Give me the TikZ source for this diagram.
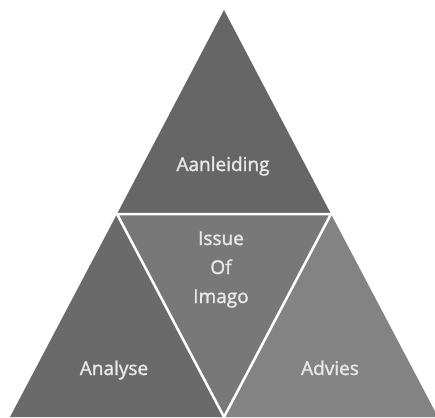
\documentclass[tikz,border=0pt]{standalone}
\usepackage{fontspec}
\newfontfamily\labelfont{Open Sans}[FakeBold=1.5]
\usetikzlibrary{positioning}

\definecolor{topgray}{HTML}{666666}
\definecolor{leftgray}{HTML}{6A6A6A}
\definecolor{midgray}{HTML}{787878}
\definecolor{rightgray}{HTML}{838383}
\definecolor{labelgray}{HTML}{E8E8E8}

\begin{document}
\begin{tikzpicture}[
    x=1pt, y=-1pt,
    part/.style={draw=white, line width=2.5pt, line join=miter},
    label/.style={text=labelgray, font=\labelfont\fontsize{19}{29}\selectfont, align=center, inner sep=0pt, anchor=base}
]
\useasboundingbox (0,0) rectangle (435,417);

% Corners
\coordinate (apex) at (224,10);
\coordinate (midL) at (117,214);
\coordinate (midR) at (331,214);
\coordinate (baseL) at (10,417);
\coordinate (baseM) at (224,417);
\coordinate (baseR) at (438,417);

% Triangles
\fill[topgray] (apex) -- (midR) -- (midL) -- cycle;
\fill[leftgray] (midL) -- (baseM) -- (baseL) -- cycle;
\fill[rightgray] (midR) -- (baseR) -- (baseM) -- cycle;
\fill[midgray] (midL) -- (midR) -- (baseM) -- cycle;
\draw[part] (midL) -- (midR) -- (baseM) -- cycle;

% Labels
\node[label] (aanleiding) at (223,171) {Aanleiding};
\node[label] (issue) at (221,303) {Issue\\Of\\Imago};
\node[label] (analyse) at (114,375) {Analyse};
\node[label] (advies) at (330,375) {Advies};

\end{tikzpicture}
\end{document}
